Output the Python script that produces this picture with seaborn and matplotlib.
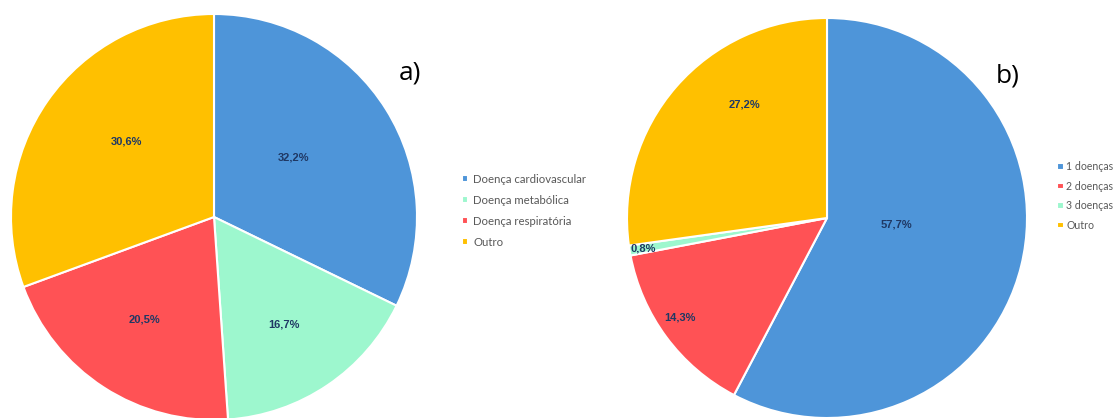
import numpy as np
import matplotlib
matplotlib.use("Agg")
import matplotlib.pyplot as plt
import seaborn as sns

# Data
cats_a = ["Doença cardiovascular", "Doença metabólica", "Doença respiratória", "Outro"]
vals_a = [32.2, 16.7, 20.5, 30.6]
cats_b = ["1 doenças", "2 doenças", "3 doenças", "Outro"]
vals_b = [57.7, 14.3, 0.8, 27.2]

# Colours per category
blue, mint, red, amber = "#4E95D9", "#9DF7CE", "#FF5255", "#FFC000"
colors_a = [blue, mint, red, amber]
colors_b = [blue, red, mint, amber]

# Label placement: radial fraction and angular nudge (degrees) from the wedge middle
dist_a = [0.49, 0.63, 0.61, 0.57]
nudge_a = [4.4, -1.0, -1.1, -6.0]
dist_b = [0.35, 0.89, 0.93, 0.70]
nudge_b = [8.2, -2.5, 0.0, -13.0]

sns.set_theme(style="white")
plt.rcParams["font.family"] = ["Lato", "DejaVu Sans"]

W, H = 1113, 418
fig = plt.figure(figsize=(W / 100, H / 100), dpi=100)


def pie_panel(rect, values, colors, dists, nudges):
    ax = fig.add_axes(rect)
    wedges, _ = ax.pie(values, colors=colors, startangle=90, counterclock=False,
                       wedgeprops=dict(edgecolor="white", linewidth=1.5))
    for w, v, d, n in zip(wedges, values, dists, nudges):
        ang = np.deg2rad((w.theta1 + w.theta2) / 2 + n)
        ax.text(d * np.cos(ang), d * np.sin(ang), f"{v:.1f}%".replace(".", ","),
                ha="center", va="center", fontsize=8, fontweight="bold",
                color="#1F3864", family=["Liberation Sans", "DejaVu Sans"])
    ax.set_xlim(-1, 1)
    ax.set_ylim(-1, 1)
    ax.set_aspect("equal")
    ax.axis("off")
    return wedges


wa = pie_panel([11 / W, -2 / H, 406 / W, 406 / H], vals_a, colors_a, dist_a, nudge_a)
wb = pie_panel([627 / W, 0 / H, 400 / W, 400 / H], vals_b, colors_b, dist_b, nudge_b)

fig.legend(wa, cats_a, loc="upper left", bbox_to_anchor=(456 / W, 1 - 168 / H),
           frameon=False, fontsize=8.2, handlelength=0.55, handleheight=0.55,
           handletextpad=0.45, labelspacing=0.88, borderpad=0, labelcolor="#595959")
fig.legend(wb, cats_b, loc="upper left", bbox_to_anchor=(1052 / W, 1 - 156 / H),
           frameon=False, fontsize=7.6, handlelength=0.6, handleheight=0.6,
           handletextpad=0.25, labelspacing=0.8, borderpad=0, labelcolor="#595959")

fig.text(410 / W, 1 - 73 / H, "a)", ha="center", va="center", fontsize=19,
         color="black", family=["Open Sans", "DejaVu Sans"])
fig.text(1008 / W, 1 - 76 / H, "b)", ha="center", va="center", fontsize=19,
         color="black", family=["Open Sans", "DejaVu Sans"])

fig.savefig("out.png", dpi=100, facecolor="white")
